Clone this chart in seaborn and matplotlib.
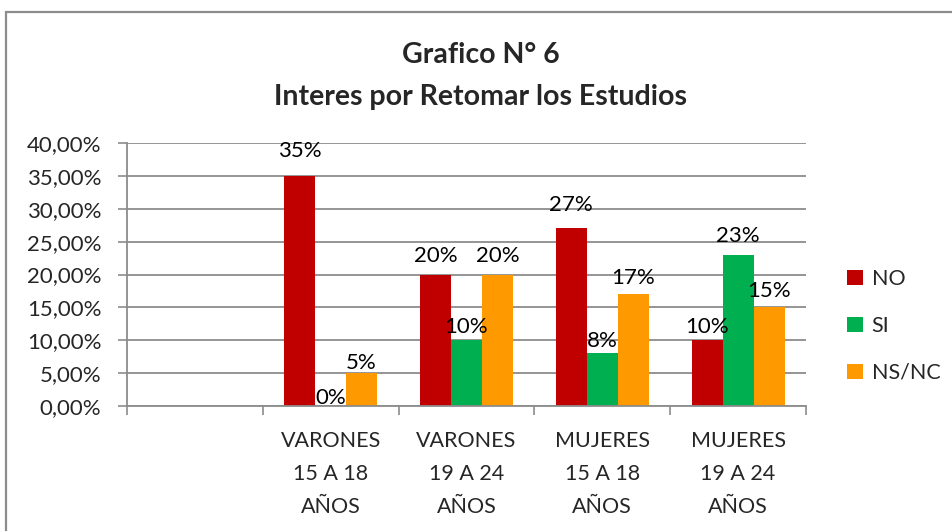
import pandas as pd
import matplotlib
matplotlib.use("Agg")
import matplotlib.pyplot as plt
from matplotlib.patches import Rectangle
from matplotlib.ticker import FixedLocator, FuncFormatter
import seaborn as sns

# Datos del gráfico
grupos = ["VARONES\n15 A 18\nAÑOS", "VARONES\n19 A 24\nAÑOS",
          "MUJERES\n15 A 18\nAÑOS", "MUJERES\n19 A 24\nAÑOS"]
respuestas = ["NO", "SI", "NS/NC"]
valores_no = [35, 20, 27, 10]
valores_si = [0, 10, 8, 23]
valores_nsnc = [5, 20, 17, 15]
etiquetas_no = ["35%", "20%", "27%", "10%"]
etiquetas_si = ["0%", "10%", "8%", "23%"]
etiquetas_nsnc = ["5%", "20%", "17%", "15%"]

colores = {"NO": "#C00000", "SI": "#00B050", "NS/NC": "#FF9900"}
# desplazamiento (px) de cada etiqueta sobre la barra, como en el original
desplaz = {"NO": [25, 18, 23, 13], "SI": [8, 13, 12, 19], "NS/NC": [10, 18, 16, 16]}

TAM = 15.5

sns.set_style("white")
plt.rcParams['font.family'] = ['Lato', 'DejaVu Sans']

filas = []
for resp, vals in zip(respuestas, [valores_no, valores_si, valores_nsnc]):
    for g, v in zip(grupos, vals):
        filas.append({"Grupo": g, "Respuesta": resp, "Valor": v})
df = pd.DataFrame(filas)

orden = [""] + grupos  # primera categoría vacía, como en el original

fig = plt.figure(figsize=(9.53, 5.31), dpi=100)
ax = fig.add_axes([127 / 953, 1 - 406 / 531, (806 - 127) / 953, (406 - 143) / 531])

sns.barplot(data=df, x="Grupo", y="Valor", hue="Respuesta", order=orden,
            hue_order=respuestas, palette=colores, width=0.684, saturation=1,
            linewidth=0, ax=ax, legend=True)

ax.set_ylim(0, 40)
ax.set_xlim(-0.5, len(orden) - 0.5)
ax.set_xlabel("")
ax.set_ylabel("")

# eje y
ax.yaxis.set_major_locator(FixedLocator(range(0, 41, 5)))
ax.yaxis.set_major_formatter(FuncFormatter(lambda v, p: f"{v:.2f}%".replace(".", ",")))
ax.grid(axis="y", color="#8c8c8c", linewidth=1.3)
ax.set_axisbelow(True)
ax.tick_params(axis="y", direction="out", length=6.5, width=1.2, color="#8c8c8c",
               pad=12, labelsize=16, left=True)

# eje x: marcas en los límites, etiquetas centradas
ax.set_xticks([i - 0.5 for i in range(len(orden) + 1)])
ax.set_xticklabels([])
ax.set_xticks(range(len(orden)), minor=True)
ax.set_xticklabels(orden, minor=True, fontsize=TAM, linespacing=1.8)
ax.tick_params(axis="x", which="major", direction="out", length=6.5, width=1.2,
               color="#8c8c8c", bottom=True)
ax.tick_params(axis="x", which="minor", length=0, pad=18)

for lado in ["top", "right"]:
    ax.spines[lado].set_visible(False)
for lado in ["left", "bottom"]:
    ax.spines[lado].set_color("#8c8c8c")
    ax.spines[lado].set_linewidth(1.3)

# etiquetas de datos
etiquetas = {"NO": etiquetas_no, "SI": etiquetas_si, "NS/NC": etiquetas_nsnc}
for cont, resp in zip(ax.containers, respuestas):
    for barra, txt, d in zip(cont, etiquetas[resp], desplaz[resp]):
        x = barra.get_x() + barra.get_width() / 2
        ax.annotate(txt, (x, barra.get_height()), xytext=(0, d * 0.72),
                    textcoords="offset points", ha="center", va="center",
                    fontsize=16, color="black")

# leyenda
handles, labels = ax.get_legend_handles_labels()
ax.legend(handles, labels, loc="center left", bbox_to_anchor=(847 / 953, 1 - 326 / 531),
          bbox_transform=fig.transFigure, frameon=False, fontsize=TAM,
          handlelength=0.75, handleheight=0.75, handletextpad=0.4,
          labelspacing=1.25, borderpad=0, borderaxespad=0)

# título
fig.text(481 / 953, 1 - 76 / 531, "Grafico N° 6\nInteres por Retomar los Estudios",
         ha="center", va="center", fontsize=20.5, fontweight="bold", linespacing=1.72)

# borde del área del gráfico
fig.add_artist(Rectangle((6 / 953, -0.1), 1.2, 1.1 - 12 / 531, transform=fig.transFigure,
                         fill=False, edgecolor="#8c8c8c", linewidth=1.6))

fig.savefig("out.png", dpi=100)
